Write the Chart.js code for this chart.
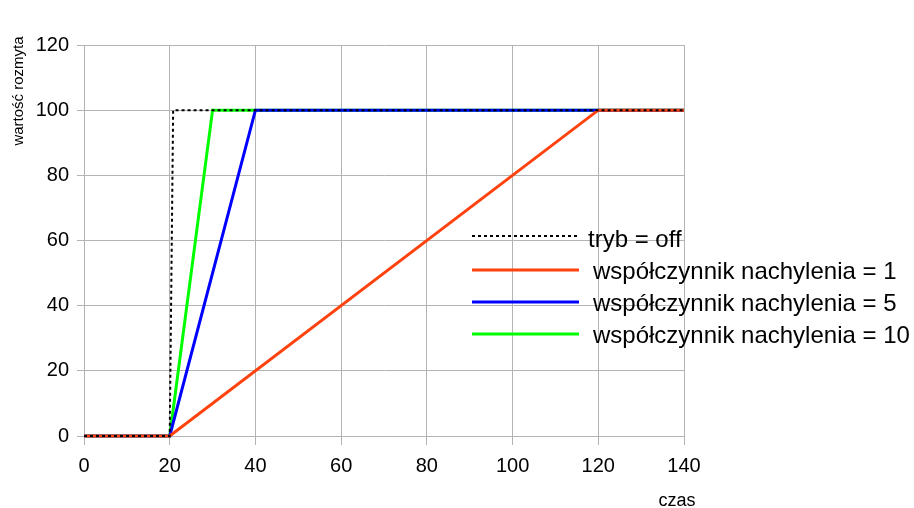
<!DOCTYPE html>
<html>
<head>
<meta charset="utf-8">
<script src="https://cdn.jsdelivr.net/npm/chart.js@4"></script>
<style>
  html, body { margin: 0; padding: 0; background: #fff; }
  #wrap { width: 914px; height: 508px; }
</style>
</head>
<body>
<div id="wrap"><canvas id="c" width="914" height="508"></canvas></div>
<script>
// ---- data ----
const seriesLabels = ['tryb = off', 'współczynnik nachylenia = 1', 'współczynnik nachylenia = 5', 'współczynnik nachylenia = 10'];
const xOff  = [0, 20, 20.8, 140];
const yOff  = [0, 0, 100, 100];
const xK1   = [0, 20, 120, 140];
const yK1   = [0, 0, 100, 100];
const xK5   = [0, 20, 40, 140];
const yK5   = [0, 0, 100, 100];
const xK10  = [0, 20, 30, 140];
const yK10  = [0, 0, 100, 100];
const xTicks = [0, 20, 40, 60, 80, 100, 120, 140];
const yTicks = [0, 20, 40, 60, 80, 100, 120];
const xTitle = 'czas';
const yTitle = 'wartość rozmyta';

const FONT = '"Liberation Sans", Arial, sans-serif';
const GRID = '#b3b3b3';

function pts(xs, ys) { return xs.map((x, i) => ({ x: x, y: ys[i] })); }

const styles = [
  { color: '#000000', width: 2, dash: [3, 3] },
  { color: '#ff420e', width: 3, dash: [] },
  { color: '#0000ff', width: 3, dash: [] },
  { color: '#00ff00', width: 3, dash: [] }
];
const raw = [[xOff, yOff], [xK1, yK1], [xK5, yK5], [xK10, yK10]];

const datasets = raw.map((r, i) => ({
  label: seriesLabels[i],
  data: pts(r[0], r[1]),
  borderColor: styles[i].color,
  backgroundColor: styles[i].color,
  borderWidth: styles[i].width,
  borderDash: styles[i].dash,
  pointRadius: 0,
  tension: 0,
  fill: false,
  clip: false
}));

const overlay = {
  id: 'overlay',
  afterDraw(chart) {
    const ctx = chart.ctx;
    ctx.save();
    // legend
    const rows = [247, 279, 311, 343];
    const lineOff = [11, 9, 9, 9];
    const textX = [588, 593, 593, 593];
    chart.data.datasets.forEach((ds, i) => {
      const by = rows[i];
      ctx.beginPath();
      ctx.strokeStyle = ds.borderColor;
      ctx.lineWidth = ds.borderWidth;
      ctx.setLineDash(ds.borderDash || []);
      ctx.moveTo(472, by - lineOff[i]);
      ctx.lineTo(579, by - lineOff[i]);
      ctx.stroke();
      ctx.setLineDash([]);
      ctx.fillStyle = '#000';
      ctx.font = '24px ' + FONT;
      ctx.textAlign = 'left';
      ctx.textBaseline = 'alphabetic';
      ctx.fillText(ds.label, textX[i], by);
    });
    // axis titles
    ctx.fillStyle = '#000';
    ctx.textAlign = 'center';
    ctx.textBaseline = 'alphabetic';
    ctx.font = '18px ' + FONT;
    ctx.fillText(xTitle, 677, 506);
    ctx.font = '15px ' + FONT;
    ctx.translate(23, 91);
    ctx.rotate(-Math.PI / 2);
    ctx.fillText(yTitle, 0, 0);
    ctx.restore();
  }
};

new Chart(document.getElementById('c'), {
  type: 'line',
  data: { datasets: datasets },
  options: {
    responsive: false,
    animation: false,
    devicePixelRatio: 1,
    layout: { padding: { left: 0, top: 45, right: 230, bottom: 0 } },
    plugins: { legend: { display: false }, tooltip: { enabled: false }, title: { display: false } },
    scales: {
      x: {
        type: 'linear',
        min: 0, max: 140,
        afterBuildTicks(s) { s.ticks = xTicks.map(v => ({ value: v })); },
        afterFit(s) { s.height = 72; },
        ticks: { font: { size: 20, family: FONT }, color: '#000', padding: 9, maxRotation: 0 },
        grid: { color: GRID, lineWidth: 1, tickLength: 9 },
        border: { color: GRID, width: 1 }
      },
      y: {
        type: 'linear',
        min: 0, max: 120,
        afterBuildTicks(s) { s.ticks = yTicks.map(v => ({ value: v })); },
        afterFit(s) { s.width = 84; },
        ticks: { font: { size: 20, family: FONT }, color: '#000', padding: 8 },
        grid: { color: GRID, lineWidth: 1, tickLength: 7 },
        border: { color: GRID, width: 1 }
      }
    }
  },
  plugins: [overlay]
});
</script>
</body>
</html>
